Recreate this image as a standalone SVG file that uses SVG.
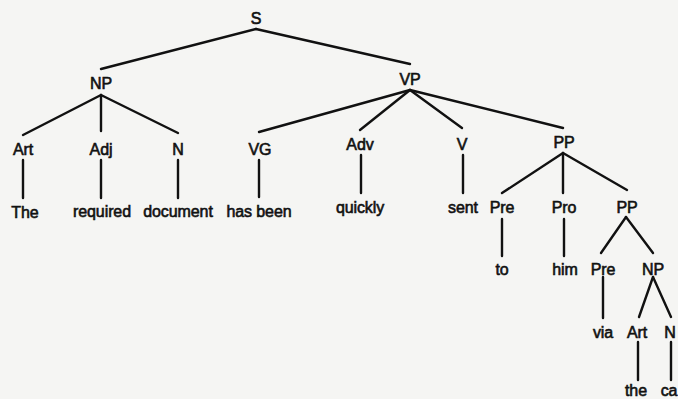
<svg xmlns="http://www.w3.org/2000/svg" width="678" height="399" viewBox="0 0 678 399">
  <style>
    .edge { stroke: #111; stroke-width: 2.4; stroke-linecap: round; fill: none; }
    text { font-family: "Liberation Sans", Arial, sans-serif; font-size: 16px; fill: #111; stroke: #111; stroke-width: 0.6; text-anchor: middle; letter-spacing: -0.1px; }
  </style>
  <rect width="678" height="399" fill="#f5f5f3"/>

  <!-- tree branches -->
  <g id="connectors">
    <line class="edge" x1="256" y1="29" x2="101" y2="69"/>
    <line class="edge" x1="256" y1="29" x2="410" y2="64"/>
    <line class="edge" x1="101" y1="95" x2="23" y2="135"/>
    <line class="edge" x1="101" y1="95" x2="101" y2="131"/>
    <line class="edge" x1="101" y1="95" x2="178" y2="133"/>
    <line class="edge" x1="410" y1="90" x2="259" y2="132"/>
    <line class="edge" x1="410" y1="90" x2="360" y2="130"/>
    <line class="edge" x1="410" y1="90" x2="462" y2="128"/>
    <line class="edge" x1="410" y1="90" x2="563" y2="128"/>
    <line class="edge" x1="23" y1="160" x2="23" y2="198"/>
    <line class="edge" x1="101" y1="160" x2="101" y2="198"/>
    <line class="edge" x1="178" y1="160" x2="178" y2="198"/>
    <line class="edge" x1="259" y1="160" x2="259" y2="197"/>
    <line class="edge" x1="361" y1="155" x2="361" y2="193"/>
    <line class="edge" x1="463" y1="155" x2="463" y2="193"/>
    <line class="edge" x1="563" y1="153" x2="502" y2="193"/>
    <line class="edge" x1="563" y1="153" x2="563" y2="193"/>
    <line class="edge" x1="563" y1="153" x2="627" y2="190"/>
    <line class="edge" x1="502" y1="219" x2="502" y2="256"/>
    <line class="edge" x1="564" y1="219" x2="564" y2="256"/>
    <line class="edge" x1="626" y1="217" x2="601" y2="253"/>
    <line class="edge" x1="626" y1="217" x2="653" y2="253"/>
    <line class="edge" x1="603" y1="277" x2="603" y2="318"/>
    <line class="edge" x1="653" y1="277" x2="639" y2="317"/>
    <line class="edge" x1="653" y1="277" x2="671" y2="317"/>
    <line class="edge" x1="638" y1="342" x2="638" y2="380"/>
    <line class="edge" x1="671" y1="342" x2="671" y2="380"/>
  </g>

  <!-- phrase and word labels -->
  <g id="S"><text x="256" y="23.5">S</text></g>
  <g id="NP"><text x="101" y="89">NP</text></g>
  <g id="VP"><text x="410" y="85">VP</text></g>
  <g id="Art"><text x="23" y="155">Art</text></g>
  <g id="Adj"><text x="101" y="155">Adj</text></g>
  <g id="N"><text x="178" y="155">N</text></g>
  <g id="VG"><text x="260" y="155">VG</text></g>
  <g id="Adv"><text x="360" y="150">Adv</text></g>
  <g id="V"><text x="462" y="150">V</text></g>
  <g id="PP"><text x="564" y="148">PP</text></g>
  <g id="w-the1"><text x="25" y="218">The</text></g>
  <g id="w-required"><text x="102" y="217">required</text></g>
  <g id="w-document"><text x="178" y="217">document</text></g>
  <g id="w-hasbeen"><text x="259" y="217">has been</text></g>
  <g id="w-quickly"><text x="360" y="213">quickly</text></g>
  <g id="w-sent"><text x="463" y="213">sent</text></g>
  <g id="Pre1"><text x="502" y="213">Pre</text></g>
  <g id="Pro"><text x="564" y="213">Pro</text></g>
  <g id="PP2"><text x="627" y="213">PP</text></g>
  <g id="w-to"><text x="502" y="275">to</text></g>
  <g id="w-him"><text x="565" y="275">him</text></g>
  <g id="Pre2"><text x="603" y="275">Pre</text></g>
  <g id="NP2"><text x="653" y="275">NP</text></g>
  <g id="w-via"><text x="603" y="338">via</text></g>
  <g id="Art2"><text x="637" y="338">Art</text></g>
  <g id="N2"><text x="670" y="338">N</text></g>
  <g id="w-the2"><text x="636" y="396">the</text></g>
  <g id="w-ca"><text x="669" y="396">ca</text></g>
</svg>
